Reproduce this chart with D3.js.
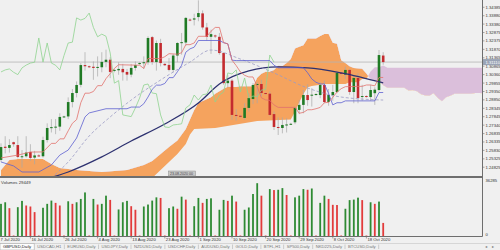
<!DOCTYPE html>
<html>
<head>
<meta charset="utf-8">
<script src="https://cdn.jsdelivr.net/npm/d3@7"></script>
<style>
  body { margin: 0; background: #f0f0f0; }
  svg { display: block; font-family: "Liberation Sans", "DejaVu Sans", sans-serif; }
</style>
</head>
<body>
<div id="chart"></div>
<script>
// GBPUSD daily bars, 8 Jul - 22 Oct 2020 (Sunday bars included)
var opens  = [1.2526,1.2605,1.2598,1.2632,1.2615,1.2544,1.2548,1.2574,1.2540,1.2553,1.2548,1.2645,1.2717,1.2722,1.2725,1.2783,1.2786,1.2872,1.2926,1.2975,1.3093,1.3086,1.3083,1.3076,1.3080,1.3112,1.3125,1.3058,1.3062,1.3070,1.3052,1.3036,1.3076,1.3100,1.3105,1.3110,1.3260,1.3111,1.3225,1.3100,1.3094,1.3064,1.3150,1.3225,1.3228,1.3365,1.3365,1.3380,1.3402,1.3318,1.3262,1.3270,1.3262,1.3165,1.2985,1.3000,1.2795,1.2790,1.2777,1.2837,1.2890,1.2974,1.2980,1.2926,1.2922,1.2800,1.2723,1.2717,1.2735,1.2738,1.2751,1.2825,1.2855,1.2914,1.2910,1.2916,1.2914,1.2974,1.2872,1.2914,1.2932,1.3046,1.3036,1.3064,1.2932,1.3016,1.2902,1.2908,1.2902,1.2925,1.2944,1.3150];
var highs  = [1.2625,1.2668,1.2650,1.2635,1.2668,1.2585,1.2668,1.2620,1.2580,1.2560,1.2665,1.2745,1.2770,1.2770,1.2805,1.2790,1.2900,1.2950,1.2995,1.3105,1.3170,1.3090,1.3115,1.3145,1.3170,1.3185,1.3140,1.3070,1.3110,1.3100,1.3070,1.3100,1.3115,1.3110,1.3145,1.3265,1.3267,1.3240,1.3250,1.3105,1.3135,1.3160,1.3230,1.3285,1.3380,1.3372,1.3400,1.3480,1.3420,1.3345,1.3305,1.3275,1.3285,1.3170,1.3035,1.3010,1.2830,1.2795,1.2865,1.2925,1.2985,1.2990,1.3005,1.2930,1.2935,1.2815,1.2780,1.2780,1.2775,1.2748,1.2845,1.2885,1.2945,1.2978,1.2955,1.2925,1.2990,1.3000,1.2950,1.2975,1.3060,1.3050,1.3083,1.3070,1.3030,1.3045,1.2975,1.2912,1.2975,1.2960,1.3183,1.3170];
var lows   = [1.2515,1.2565,1.2570,1.2605,1.2535,1.2480,1.2540,1.2520,1.2500,1.2545,1.2540,1.2630,1.2690,1.2680,1.2700,1.2778,1.2770,1.2840,1.2900,1.2960,1.3060,1.3075,1.3005,1.3025,1.3050,1.3080,1.3015,1.3050,1.3035,1.3000,1.3000,1.3020,1.3060,1.3095,1.3070,1.3095,1.3095,1.3060,1.3085,1.3088,1.3055,1.3050,1.3110,1.3155,1.3210,1.3355,1.3330,1.3355,1.3305,1.3240,1.3160,1.3255,1.3155,1.2975,1.2960,1.2765,1.2760,1.2780,1.2765,1.2815,1.2860,1.2865,1.2905,1.2915,1.2790,1.2705,1.2675,1.2685,1.2690,1.2735,1.2740,1.2800,1.2805,1.2850,1.2845,1.2910,1.2895,1.2865,1.2850,1.2880,1.2925,1.3035,1.3010,1.2915,1.2865,1.2865,1.2880,1.2898,1.2880,1.2855,1.2935,1.3095];
var closes = [1.2603,1.2598,1.2615,1.2620,1.2544,1.2548,1.2570,1.2538,1.2553,1.2550,1.2645,1.2717,1.2722,1.2725,1.2783,1.2786,1.2872,1.2926,1.2974,1.3093,1.3086,1.3083,1.3076,1.3082,1.3112,1.3125,1.3052,1.3064,1.3070,1.3050,1.3036,1.3076,1.3093,1.3105,1.3110,1.3255,1.3111,1.3225,1.3105,1.3092,1.3064,1.3150,1.3225,1.3230,1.3375,1.3362,1.3372,1.3404,1.3318,1.3262,1.3278,1.3265,1.3165,1.2985,1.3000,1.2795,1.2790,1.2785,1.2837,1.2896,1.2974,1.2980,1.2926,1.2922,1.2795,1.2723,1.2720,1.2735,1.2738,1.2742,1.2837,1.2855,1.2914,1.2884,1.2916,1.2920,1.2974,1.2872,1.2914,1.2932,1.3046,1.3040,1.3064,1.2932,1.3016,1.2896,1.2908,1.2904,1.2944,1.2946,1.3153,1.3111];
var volumes = [20650,21660,17870,300,18510,22550,19580,18950,15350,300,18130,20650,22740,21280,19580,300,22300,20650,21660,23810,27980,300,23810,20210,20650,25900,23180,300,17050,21660,22550,19140,16860,300,18950,20210,22740,24820,24440,300,17870,18950,17490,25260,23370,300,19140,24440,21280,23810,24190,300,16860,23180,22550,25900,22110,300,16860,18320,26970,33920,25900,300,30130,29500,29690,30760,26340,300,24820,25900,30130,29690,30510,300,21280,25900,23810,20020,19900,300,17490,23050,23370,24630,23050,300,21660,20650,22110,8400];

// indicator lines, [bar, price]
var tenkan = [[0,1.2538],[4,1.2555],[7,1.2573],[10,1.2574],[12,1.2625],[13,1.2625],[14,1.2652],[15,1.2652],[16,1.2700],[17,1.2745],[18,1.2767],[19,1.2868],[20,1.2925],[21,1.2925],[22,1.2935],[23,1.2970],[24,1.2970],[25,1.3012],[26,1.3042],[27,1.3073],[28,1.3095],[33,1.3092],[34,1.3073],[35,1.3132],[38,1.3132],[39,1.3143],[40,1.3161],[42,1.3158],[43,1.3167],[44,1.3215],[45,1.3215],[46,1.3225],[47,1.3265],[49,1.3265],[50,1.3295],[51,1.3318],[52,1.3318],[53,1.3227],[54,1.3220],[55,1.3122],[56,1.3090],[57,1.3052],[58,1.3032],[59,1.3022],[60,1.3022],[61,1.2965],[62,1.2897],[63,1.2885],[64,1.2882],[65,1.2855],[66,1.2840],[70,1.2840],[71,1.2805],[72,1.2810],[73,1.2826],[74,1.2826],[75,1.2832],[76,1.2840],[77,1.2868],[78,1.2870],[79,1.2900],[80,1.2932],[81,1.2952],[82,1.2964],[86,1.2966],[87,1.2974],[88,1.2974],[89,1.2969],[90,1.3019],[91,1.3019]];
var kijun = [[0,1.2514],[3,1.2490],[5,1.2454],[9,1.2454],[12,1.2496],[14,1.2555],[16,1.2585],[18,1.2657],[20,1.2783],[21,1.2807],[25,1.2832],[30,1.2832],[31,1.2842],[33,1.2842],[34,1.2862],[35,1.2902],[36,1.2948],[37,1.2973],[38,1.2973],[39,1.2983],[40,1.3018],[41,1.3018],[42,1.3053],[43,1.3092],[44,1.3170],[45,1.3190],[46,1.3200],[47,1.3240],[52,1.3240],[53,1.3227],[54,1.3220],[55,1.3122],[56,1.3120],[64,1.3120],[65,1.3092],[66,1.3077],[72,1.3077],[73,1.3047],[74,1.3010],[75,1.2990],[76,1.2980],[77,1.2980],[78,1.2923],[79,1.2855],[80,1.2868],[81,1.2868],[82,1.2879],[89,1.2879],[90,1.2929],[91,1.2929]];
var spanA = [[0,1.2466],[2,1.2526],[4,1.2532],[10,1.2532],[12,1.2502],[14,1.2478],[18,1.2466],[24,1.2454],[30,1.2466],[34,1.2496],[36,1.2520],[38,1.2562],[40,1.2603],[42,1.2642],[44,1.2711],[46,1.2825],[47,1.2866],[48,1.2878],[50,1.2900],[51,1.2922],[52,1.2937],[53,1.2952],[54,1.2963],[56,1.2962],[57,1.2967],[60,1.2967],[61,1.3017],[62,1.3041],[63,1.3053],[64,1.3053],[65,1.3063],[66,1.3089],[67,1.3088],[68,1.3105],[69,1.3129],[70,1.3192],[71,1.3202],[72,1.3212],[73,1.3252],[75,1.3252],[76,1.3267],[77,1.3279],[78,1.3279],[79,1.3227],[80,1.3220],[81,1.3122],[82,1.3105],[83,1.3086],[84,1.3076],[86,1.3071],[87,1.3042],[88,1.3009],[89,1.3002],[90,1.3001],[91,1.2973],[92,1.2958],[96,1.2958],[97,1.2941],[98,1.2943],[99,1.2937],[100,1.2918],[101,1.2911],[102,1.2910],[103,1.2924],[104,1.2896],[105,1.2877],[106,1.2900],[107,1.2910],[108,1.2921],[112,1.2922],[113,1.2926],[114,1.2926],[115,1.2924],[116,1.2974],[117,1.2974]];
var spanB = [[0,1.2394],[34,1.2394],[36,1.2418],[38,1.2466],[40,1.2514],[42,1.2562],[44,1.2621],[45,1.2678],[46,1.2711],[51,1.2717],[61,1.2759],[69,1.2768],[70,1.2816],[71,1.2869],[72,1.2920],[73,1.2961],[74,1.2968],[76,1.2976],[77,1.2980],[82,1.2980],[83,1.2990],[85,1.2990],[86,1.3010],[87,1.3010],[88,1.3055],[89,1.3080],[90,1.3080],[91,1.3090],[92,1.3077],[117,1.3077]];
var slowMA = [[6,1.2380],[9,1.2400],[16,1.2454],[24,1.2544],[31,1.2639],[39,1.2741],[47,1.2866],[52,1.2980],[59,1.3058],[66,1.3082],[73,1.3076],[81,1.3046],[91,1.2986]];
var dashMA = [[12,1.2418],[16,1.2514],[21,1.2669],[26,1.2783],[31,1.2884],[38,1.3004],[45,1.3111],[50,1.3183],[57,1.3129],[65,1.3046],[73,1.2956],[81,1.2902],[91,1.2884]];
var chikouShift = 26;

var priceTicks = ["1.34385","1.33880","1.33380","1.32875","1.32375","1.31870","1.31365","1.30865","1.30360","1.29855","1.29350","1.28850","1.28345","1.27845","1.27340","1.26835","1.26335","1.25830","1.25325","1.24825"];
var lastPrice = "1.31110";
var dateSlots = [-1,7,15,23,31,39,47,55,63,71,79,87];
var dateLabels = ["7 Jul 2020","16 Jul 2020","26 Jul 2020","4 Aug 2020","13 Aug 2020","23 Aug 2020","1 Sep 2020","10 Sep 2020","20 Sep 2020","29 Sep 2020","8 Oct 2020","18 Oct 2020"];
var volTicks = ["36285","0"];
var volTitle = "Volumes 29449";
var tabNames = ["GBPUSD,Daily","USDCAD,H1","EURUSD,Daily","USDJPY,Daily","NZDUSD,Daily","USDCHF,Daily","AUDUSD,Daily","GOLD,Daily","BTFL,H1","SP500,Daily","NKD225,Daily","BTCUSD,Daily"];

var width = 500, height = 250;
var plotW = 482, mainH = 176, volTop = 178, volBottom = 236;

var svg = d3.select("#chart").append("svg")
  .attr("width", width).attr("height", height);

svg.append("rect").attr("width", width).attr("height", height).attr("fill", "#f0f0f0");

var defs = svg.append("defs");
defs.append("clipPath").attr("id", "mainClip")
  .append("rect").attr("x", 0).attr("y", 0).attr("width", plotW).attr("height", mainH);

var x = d3.scaleLinear().domain([0, 91]).range([1, 383.2]);
var y = d3.scaleLinear().domain([1.3482, 1.2430]).range([0, mainH]);
var yv = d3.scaleLinear().domain([0, 36285]).range([volBottom, 179.5]);

var main = svg.append("g").attr("clip-path", "url(#mainClip)");

// ---- cloud ----
var line = d3.line().x(function(d) { return x(d[0]); }).y(function(d) { return y(d[1]); });
var cloudPath = line(spanA) + "L" + line(spanB.slice().reverse()).slice(1) + "Z";

var aLast = spanA[spanA.length - 1][0], aFirst = spanA[0][0];
defs.append("clipPath").attr("id", "belowA")
  .append("path").attr("d", line(spanA) + "L" + x(aLast) + ",400L" + x(aFirst) + ",400Z");
defs.append("clipPath").attr("id", "aboveA")
  .append("path").attr("d", line(spanA) + "L" + x(aLast) + ",-200L" + x(aFirst) + ",-200Z");

main.append("g").attr("clip-path", "url(#belowA)")
  .append("path").attr("d", cloudPath).attr("fill", "#f5a35e");
main.append("g").attr("clip-path", "url(#aboveA)")
  .append("path").attr("d", cloudPath).attr("fill", "#dbbfdb");

// current price line
main.append("line")
  .attr("x1", 0).attr("x2", plotW)
  .attr("y1", y(+lastPrice)).attr("y2", y(+lastPrice))
  .attr("stroke", "#b4b4b4").attr("stroke-width", 0.8);

// ---- candles ----
var bars = d3.range(closes.length);
var candles = main.append("g");
candles.selectAll(".wick").data(bars).enter().append("line")
  .attr("x1", function(i) { return x(i); }).attr("x2", function(i) { return x(i); })
  .attr("y1", function(i) { return y(highs[i]); })
  .attr("y2", function(i) { return y(lows[i]); })
  .attr("stroke", "#a9a9a9").attr("stroke-width", 0.7);
candles.selectAll(".body").data(bars).enter().append("rect")
  .attr("x", function(i) { return x(i) - 1.3; })
  .attr("width", 2.6)
  .attr("y", function(i) { return y(Math.max(opens[i], closes[i])); })
  .attr("height", function(i) { return Math.max(1, Math.abs(y(opens[i]) - y(closes[i]))); })
  .attr("fill", function(i) { return closes[i] >= opens[i] ? "#1f7a24" : "#c42b2f"; });

// ---- lines ----
var smooth = d3.line().curve(d3.curveMonotoneX)
  .x(function(d) { return x(d[0]); }).y(function(d) { return y(d[1]); });

main.append("path").attr("d", smooth(slowMA)).attr("fill", "none")
  .attr("stroke", "#2d3170").attr("stroke-width", 1.3);
main.append("path").attr("d", smooth(dashMA)).attr("fill", "none")
  .attr("stroke", "#9a9ac4").attr("stroke-width", 0.8).attr("stroke-dasharray", "3,2");

var chikou = bars.filter(function(i) { return i >= chikouShift; })
  .map(function(i) { return [i - chikouShift, closes[i]]; });
main.append("path").attr("d", line(chikou)).attr("fill", "none")
  .attr("stroke", "#8fd38f").attr("stroke-width", 0.8);
main.append("path").attr("d", line(kijun)).attr("fill", "none")
  .attr("stroke", "#5d5fd0").attr("stroke-width", 0.8);
main.append("path").attr("d", line(tenkan)).attr("fill", "none")
  .attr("stroke", "#e2716c").attr("stroke-width", 0.8);

// ---- volume panel ----
svg.append("g").selectAll("rect").data(bars).enter().append("rect")
  .attr("x", function(i) { return x(i) - 0.9; })
  .attr("width", 1.8)
  .attr("y", function(i) { return yv(volumes[i]); })
  .attr("height", function(i) { return volBottom - yv(volumes[i]); })
  .attr("fill", function(i) { return (i === 0 || volumes[i] > volumes[i - 1]) ? "#2e8a33" : "#e23b3b"; });

svg.append("text").attr("x", 1).attr("y", 183.5)
  .attr("font-size", 4.3).attr("fill", "#333").text(volTitle);

// ---- frames ----
var frame = "#6e6e6e";
svg.append("line").attr("x1", 0).attr("x2", plotW + 0.5).attr("y1", mainH + 0.5).attr("y2", mainH + 0.5)
  .attr("stroke", frame).attr("stroke-width", 1);
svg.append("line").attr("x1", 0).attr("x2", plotW + 0.5).attr("y1", volTop - 0.5).attr("y2", volTop - 0.5)
  .attr("stroke", frame).attr("stroke-width", 1);
svg.append("line").attr("x1", 0).attr("x2", plotW + 0.5).attr("y1", volBottom + 0.5).attr("y2", volBottom + 0.5)
  .attr("stroke", frame).attr("stroke-width", 1);
svg.append("line").attr("x1", plotW + 0.5).attr("x2", plotW + 0.5).attr("y1", 0).attr("y2", volBottom + 0.5)
  .attr("stroke", frame).attr("stroke-width", 1);

// price axis
var pAxis = svg.append("g").attr("font-size", 4.2).attr("fill", "#333");
priceTicks.forEach(function(t) {
  var yy = y(+t);
  pAxis.append("line").attr("x1", plotW + 0.5).attr("x2", plotW + 2.5)
    .attr("y1", yy).attr("y2", yy).attr("stroke", frame).attr("stroke-width", 0.6);
  pAxis.append("text").attr("x", plotW + 3.5).attr("y", yy + 1.5).text(t);
});
var lp = y(+lastPrice);
svg.append("rect").attr("x", plotW + 1).attr("y", lp - 3).attr("width", 17).attr("height", 6)
  .attr("fill", "#9aa3b5");
svg.append("text").attr("x", plotW + 3.5).attr("y", lp + 1.5)
  .attr("font-size", 4.2).attr("fill", "#fff").text(lastPrice);

// volume axis
svg.append("text").attr("x", plotW + 3.5).attr("y", 182).attr("font-size", 4.2).attr("fill", "#333").text(volTicks[0]);
svg.append("text").attr("x", plotW + 3.5).attr("y", volBottom).attr("font-size", 4.2).attr("fill", "#333").text(volTicks[1]);

// date axis (first label kept inside the window)
var dAxis = svg.append("g").attr("font-size", 4.2).attr("fill", "#333");
dateSlots.forEach(function(s, k) {
  var xx = x(s);
  if (xx >= 0) {
    dAxis.append("line").attr("x1", xx).attr("x2", xx).attr("y1", volBottom + 0.5).attr("y2", volBottom + 2.5)
      .attr("stroke", frame).attr("stroke-width", 0.6);
  }
  dAxis.append("text").attr("x", Math.max(0.5, xx + 1)).attr("y", 241.3).text(dateLabels[k]);
});

// small marker box at the bottom of the price panel
svg.append("rect").attr("x", 168.5).attr("y", 171).attr("width", 27).attr("height", 5)
  .attr("fill", "#c9c9c9").attr("stroke", "#8a8a8a").attr("stroke-width", 0.5);
svg.append("text").attr("x", 170).attr("y", 174.8).attr("font-size", 3.6).attr("fill", "#444").text("23.08.2020 00");

// ---- symbol tabs ----
var tabs = svg.append("g").attr("font-size", 4.2);
var tx = 0;
tabNames.forEach(function(name, k) {
  var t = tabs.append("text").attr("x", tx + 3).attr("y", 248.3)
    .attr("fill", k === 0 ? "#222" : "#777").text(name);
  var w = t.node().getComputedTextLength() + 6;
  if (k === 0) {
    tabs.insert("rect", "text").attr("x", tx).attr("y", 243.5).attr("width", w).attr("height", 6.5)
      .attr("fill", "#fdfdfd").attr("stroke", "#9a9a9a").attr("stroke-width", 0.5);
  } else {
    tabs.append("line").attr("x1", tx + w).attr("x2", tx + w).attr("y1", 244.5).attr("y2", 249)
      .attr("stroke", "#a6a6a6").attr("stroke-width", 0.5);
  }
  tx += w;
});
svg.append("line").attr("x1", 0).attr("x2", width).attr("y1", 243.5).attr("y2", 243.5)
  .attr("stroke", "#bdbdbd").attr("stroke-width", 0.5);
svg.append("text").attr("x", 485).attr("y", 248.3).attr("font-size", 4.2).attr("fill", "#777").text("\u25C2");
svg.append("text").attr("x", 492).attr("y", 248.3).attr("font-size", 4.2).attr("fill", "#777").text("\u25B8");
</script>
</body>
</html>
